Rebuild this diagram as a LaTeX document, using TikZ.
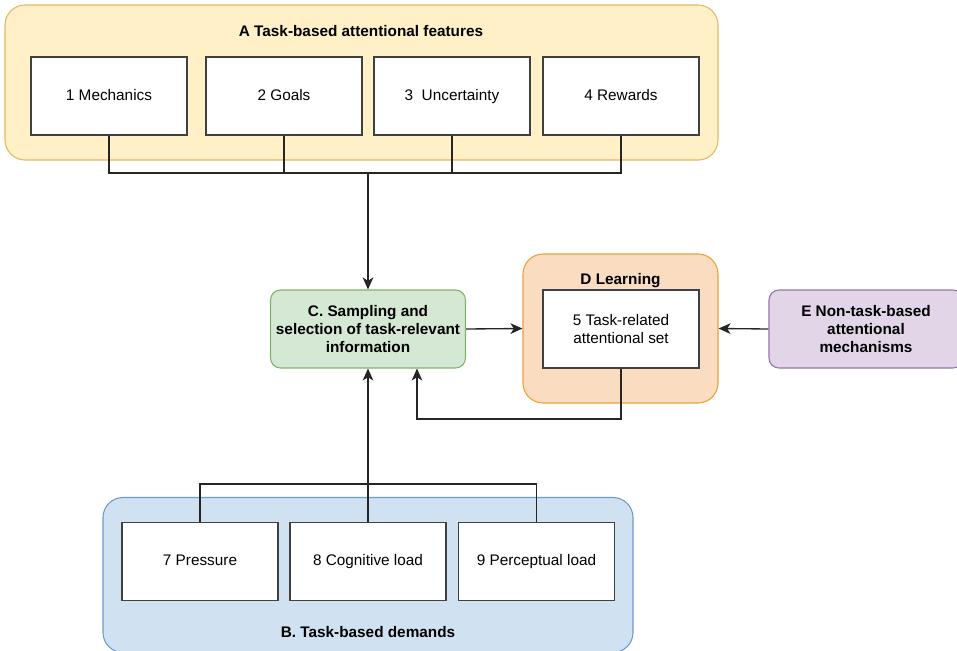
\documentclass[tikz,border=0pt]{standalone}
\usepackage{fontspec}
\setmainfont{Liberation Sans}
\usetikzlibrary{arrows.meta,calc,positioning}

\definecolor{featfill}{HTML}{FFF0C8}
\definecolor{featline}{HTML}{E2B860}
\definecolor{learnfill}{HTML}{FADCC0}
\definecolor{learnline}{HTML}{EFA035}
\definecolor{sampfill}{HTML}{D5E8D4}
\definecolor{sampline}{HTML}{82B366}
\definecolor{nontfill}{HTML}{E1D5E7}
\definecolor{nontline}{HTML}{9673A6}
\definecolor{demfill}{HTML}{D0E2F2}
\definecolor{demline}{HTML}{6C9BD0}

\begin{document}
\begin{tikzpicture}[x=0.75pt, y=-0.75pt, >={Stealth[length=9pt,width=8pt,inset=2.5pt]}]
\tikzset{every node/.style={font=\fontsize{11.5}{13.8}\selectfont}}

\tikzstyle{group}=[rounded corners=15pt, line width=0.8pt, minimum width=534.75pt, minimum height=116.25pt]
\tikzstyle{item}=[draw=black!75, fill=white, line width=1pt, text centered, minimum width=117pt, minimum height=58.5pt, inner sep=2pt, text height=8.6pt, text depth=2.4pt]
\tikzstyle{mid}=[rounded corners=7.5pt, line width=0.8pt, text centered, align=center, font=\bfseries\fontsize{11.5}{13.8}\selectfont, minimum width=146.25pt, minimum height=58.5pt]
\tikzstyle{ttl}=[font=\bfseries\fontsize{11.5}{13.8}\selectfont]
\tikzstyle{link}=[draw=black!85, line width=1pt]

\useasboundingbox (0,0) rectangle (957,650);

% top group
\node(featA)[group, draw=featline, fill=featfill] at (361.5,82.5) {};
\node(featAt)[ttl] at (361,31) {A Task-based attentional features};
\node(mech)[item] at (109,96) {1 Mechanics};
\node(goal)[item] at (284,96) {2 Goals};
\node(unc)[item] at (452,96) {3~~Uncertainty};
\node(rew)[item] at (621,96) {4 Rewards};

% bottom group
\node(demB)[group, draw=demline, fill=demfill, minimum width=397.5pt] at (368,575) {};
\node(demBt)[ttl] at (368,632) {B. Task-based demands};
\node(press)[item] at (200,561.5) {7 Pressure};
\node(cogn)[item] at (368,561.5) {8 Cognitive load};
\node(perc)[item] at (536.5,561.5) {9 Perceptual load};

% middle row
\node(samp)[mid, draw=sampline, fill=sampfill] at (368,329) {C. Sampling and\\selection of task-relevant\\information};
\node(learn)[group, draw=learnline, fill=learnfill, minimum width=146.25pt, minimum height=111.75pt] at (620.5,328.5) {};
\node(learnt)[ttl] at (620.5,281) {D Learning};
\node(attset)[draw=black!75, fill=white, line width=1pt, align=center, minimum width=117pt, minimum height=58.5pt] at (621,329) {5 Task-related\\attentional set};
\node(nont)[mid, draw=nontline, fill=nontfill, minimum width=145.5pt] at (866,329) {E Non-task-based\\attentional\\mechanisms};

\coordinate(busA) at (368,173);
\coordinate(busB) at (368,484);
\coordinate(fb) at (417,419);

\foreach \n in {mech,goal,unc,rew}
  \draw[link] (\n.south) |- (busA);
\draw[link,->] (busA) -- (samp.north);

\draw[link] (press.north) |- (busB);
\draw[link] (perc.north) |- (busB);
\draw[link,->] (cogn.north) -- (samp.south);

\draw[link,->] (samp.east) -- (learn.west);
\draw[link,->] (nont.west) -- (learn.east);
\draw[link,->] (attset.south) |- (fb) -- (fb |- samp.south);

\end{tikzpicture}
\end{document}
